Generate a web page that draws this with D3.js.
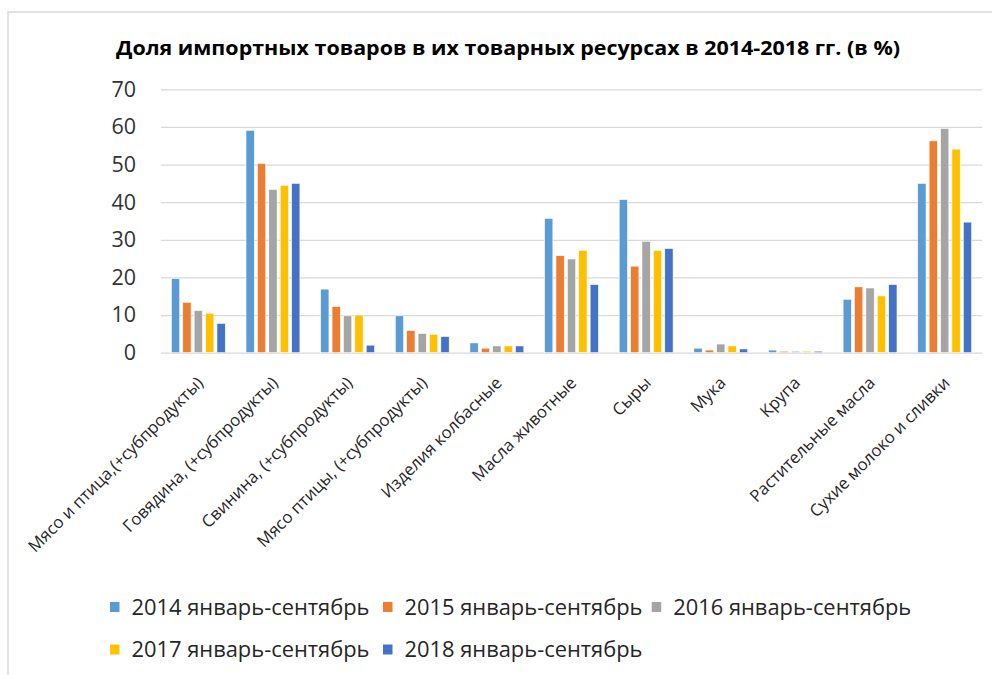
<!DOCTYPE html>
<html>
<head>
<meta charset="utf-8">
<script src="https://cdn.jsdelivr.net/npm/d3@7"></script>
<style>
  html, body { margin: 0; padding: 0; background: #fff; }
  svg { display: block; }
</style>
</head>
<body>
<svg id="chart" width="992" height="675"></svg>
<script>
const title = "Доля импортных товаров  в их товарных ресурсах в 2014-2018 гг. (в %)";
const categories = [
  "Мясо и птица,(+субпродукты)",
  "Говядина, (+субпродукты)",
  "Свинина, (+субпродукты)",
  "Мясо птицы, (+субпродукты)",
  "Изделия колбасные",
  "Масла животные",
  "Сыры",
  "Мука",
  "Крупа",
  "Растительные масла",
  "Сухие молоко и сливки"
];
const seriesNames = [
  "2014 январь-сентябрь",
  "2015 январь-сентябрь",
  "2016 январь-сентябрь",
  "2017 январь-сентябрь",
  "2018 январь-сентябрь"
];
const v2014 = [19.7, 59.1, 16.9, 9.8, 2.6, 35.7, 40.7, 1.2, 0.7, 14.2, 45.0];
const v2015 = [13.4, 50.3, 12.3, 5.9, 1.2, 25.8, 23.0, 0.7, 0.4, 17.5, 56.3];
const v2016 = [11.2, 43.4, 9.8, 5.1, 1.8, 24.9, 29.6, 2.3, 0.4, 17.2, 59.6];
const v2017 = [10.5, 44.5, 10.0, 4.9, 1.8, 27.2, 27.2, 1.8, 0.4, 15.1, 54.1];
const v2018 = [7.8, 45.0, 2.0, 4.3, 1.8, 18.1, 27.7, 1.0, 0.4, 18.1, 34.7];
const seriesValues = [v2014, v2015, v2016, v2017, v2018];
const colors = ["#5B9BD5", "#ED7D31", "#A5A5A5", "#FFC000", "#4472C4"];
const yTicks = [0, 10, 20, 30, 40, 50, 60, 70];

const svg = d3.select("#chart");

// frame
svg.append("rect")
  .attr("x", 8).attr("y", 12).attr("width", 1000).attr("height", 700)
  .attr("fill", "none").attr("stroke", "#d9d9d9").attr("stroke-width", 1.5);

const plot = { left: 161, right: 982, top: 89.3, bottom: 352.7 };

const x0 = d3.scaleBand().domain(categories).range([plot.left, plot.right]).paddingInner(0).paddingOuter(0);
const x1 = d3.scaleBand().domain(seriesNames).range([-26.95, 26.95]).paddingInner(0.27).paddingOuter(0);
const y = d3.scaleLinear().domain([0, 70]).range([plot.bottom, plot.top]);

// gridlines
const yAxis = d3.axisLeft(y).tickValues(yTicks).tickSize(-(plot.right - plot.left)).tickPadding(25).tickFormat(d3.format("d"));
const gy = svg.append("g").attr("transform", `translate(${plot.left},0)`).call(yAxis);
gy.select(".domain").remove();
gy.selectAll(".tick line").attr("stroke", "#d9d9d9").attr("stroke-width", 1.2);
gy.selectAll(".tick text")
  .attr("font-family", "'Open Sans', sans-serif")
  .attr("font-size", 21.5)
  .attr("fill", "#333")
  .attr("x", 136 - plot.left);

// bars
const groups = svg.append("g").selectAll("g")
  .data(categories)
  .join("g")
  .attr("transform", d => `translate(${x0(d) + x0.bandwidth() / 2},0)`);

groups.selectAll("rect")
  .data((c, i) => seriesNames.map((s, j) => ({ s, j, v: seriesValues[j][i] })))
  .join("rect")
  .attr("x", d => x1(d.s))
  .attr("width", x1.bandwidth())
  .attr("y", d => y(d.v))
  .attr("height", d => y(0) - y(d.v))
  .attr("fill", d => colors[d.j])
  .attr("stroke", "#ffffff")
  .attr("stroke-width", 0.6);

// x labels
const xl = svg.append("g");
categories.forEach(c => {
  const cx = x0(c) + x0.bandwidth() / 2;
  xl.append("text")
    .attr("transform", `translate(${cx + 6},384) rotate(-45)`)
    .attr("text-anchor", "end")
    .attr("font-family", "'Open Sans', sans-serif")
    .attr("font-size", 16.8)
    .attr("fill", "#262626")
    .text(c);
});

// title
svg.append("text")
  .attr("x", 508).attr("y", 55)
  .attr("text-anchor", "middle")
  .attr("font-family", "'Open Sans', sans-serif")
  .attr("font-weight", "bold")
  .attr("font-size", 20)
  .attr("fill", "#000")
  .attr("textLength", 784)
  .attr("lengthAdjust", "spacingAndGlyphs")
  .text(title);

// legend
const legendPos = [
  { x: 110, y: 602 }, { x: 383, y: 602 }, { x: 651.7, y: 602 },
  { x: 110, y: 644.5 }, { x: 383, y: 644.5 }
];
const lg = svg.append("g");
seriesNames.forEach((s, i) => {
  const p = legendPos[i];
  lg.append("rect").attr("x", p.x).attr("y", p.y).attr("width", 9.5).attr("height", 10).attr("fill", colors[i]);
  lg.append("text")
    .attr("x", p.x + 21.5).attr("y", p.y + 12.5)
    .attr("font-family", "'Open Sans', sans-serif")
    .attr("font-size", 21)
    .attr("fill", "#262626")
    .attr("textLength", 238)
    .attr("lengthAdjust", "spacingAndGlyphs")
    .text(s);
});
</script>
</body>
</html>
